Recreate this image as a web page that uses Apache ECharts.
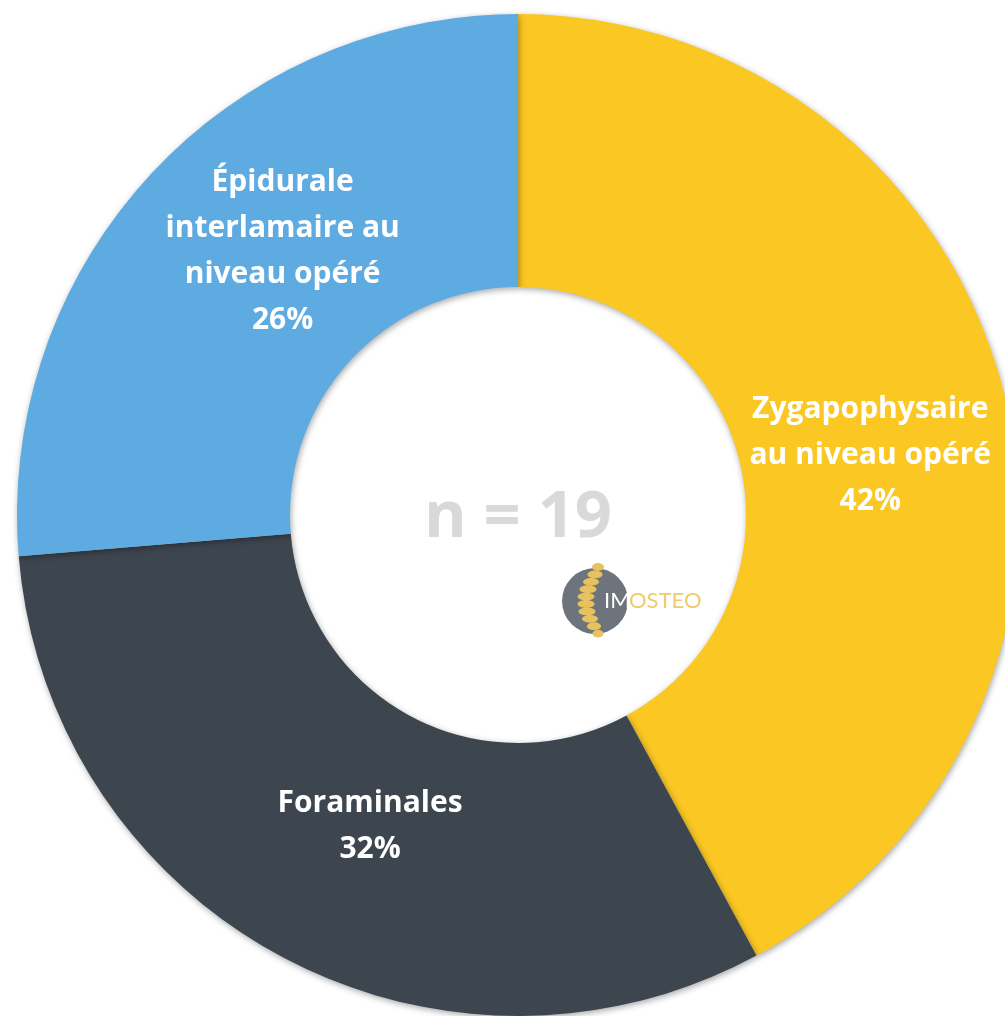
<!DOCTYPE html>
<html>
<head>
<meta charset="utf-8">
<script src="https://cdn.jsdelivr.net/npm/echarts@6/dist/echarts.min.js"></script>
<style>
  html, body { margin: 0; padding: 0; background: #fff; }
  #donut { width: 1005px; height: 1016px; }
</style>
</head>
<body>
<div id="donut"></div>
<script>
// infiltrations, n = 19
var categories = ['Zygapophysaire\nau niveau opéré', 'Foraminales', 'Épidurale\ninterlamaire au\nniveau opéré'];
var counts = [8, 6, 5];
var percentLabels = ['42%', '32%', '26%'];
var colors = ['#FAC723', '#3D454F', '#5EABE2'];
var totalLabel = 'n = 19';

// small nudges so labels sit like in the original
var labelOffsets = [[-4, 31], [27, -12], [35, -15]];

var data = categories.map(function (name, i) {
    return {
        value: counts[i],
        name: name,
        itemStyle: { color: colors[i] },
        label: { offset: labelOffsets[i] }
    };
});

// spine of the logo (little vertebrae)
var spine = [];
var vx = [598, 595, 591, 588, 586, 586, 587, 590, 594, 598];
var vw = [6, 7.5, 8, 8.5, 8.5, 8.5, 8.5, 8, 7, 5.5];
for (var k = 0; k < vx.length; k++) {
    spine.push({
        type: 'ellipse',
        shape: { cx: vx[k], cy: 567 + k * 7.4, rx: vw[k], ry: 3.9 },
        style: { fill: '#E8C25E' },
        z: 10
    });
}

var chart = echarts.init(document.getElementById('donut'));
chart.setOption({
    animation: false,
    graphic: [
        {
            type: 'text',
            x: 518,
            y: 486,
            style: {
                text: totalLabel,
                align: 'center',
                font: 'bold 65px "Open Sans", "Noto Sans", sans-serif',
                fill: '#D9D9D9'
            },
            z: 5
        },
        {
            type: 'circle',
            shape: { cx: 595, cy: 601, r: 33 },
            style: { fill: '#6D747B' },
            z: 9
        }
    ].concat(spine).concat([
        {
            type: 'text',
            x: 604, y: 590,
            style: { text: 'IM', font: '22px Lato, "Open Sans", sans-serif', fill: '#ffffff' },
            z: 11
        },
        {
            type: 'text',
            x: 629, y: 590,
            style: { text: 'OSTEO', font: '22px Lato, "Open Sans", sans-serif', fill: '#F0CB68' },
            z: 11
        }
    ]),
    series: [
        {
            type: 'pie',
            center: [518, 515],
            radius: [228, 501],
            startAngle: 90,
            clockwise: true,
            avoidLabelOverlap: false,
            data: data,
            itemStyle: {
                shadowBlur: 6,
                shadowColor: 'rgba(0,0,0,0.35)',
                shadowOffsetX: 1,
                shadowOffsetY: 2
            },
            label: {
                show: true,
                position: 'inside',
                color: '#ffffff',
                fontFamily: '"Open Sans", "Noto Sans", sans-serif',
                fontWeight: 'bold',
                fontSize: 30,
                lineHeight: 46,
                align: 'center',
                formatter: function (p) {
                    return p.name + '\n' + percentLabels[p.dataIndex];
                }
            },
            labelLine: { show: false },
            emphasis: { disabled: true }
        }
    ]
});
window.onresize = chart.resize;
</script>
</body>
</html>
